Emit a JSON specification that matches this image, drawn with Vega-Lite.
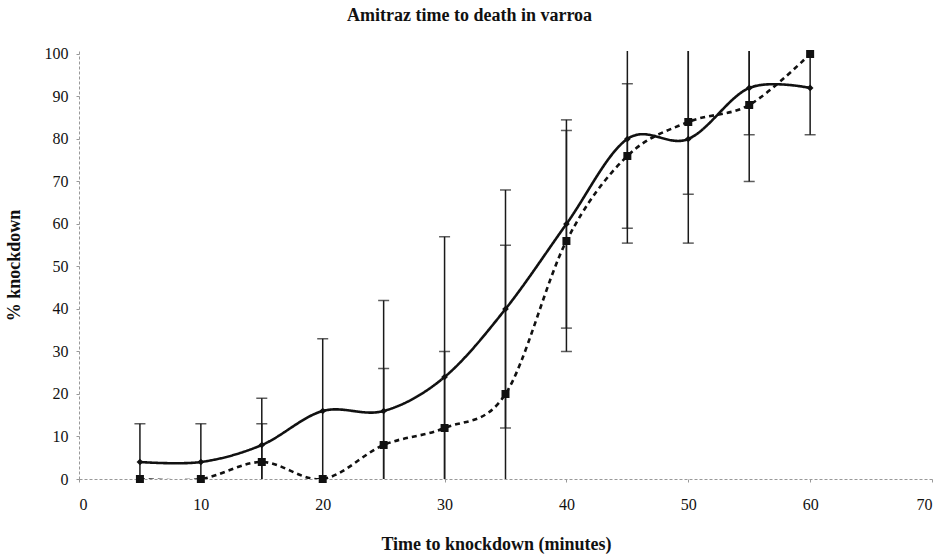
{
  "$schema": "https://vega.github.io/schema/vega-lite/v6.json",
  "width": 853,
  "height": 428,
  "autosize": "none",
  "padding": {"left": 79, "top": 51, "right": 16, "bottom": 75},
  "background": "white",
  "config": {
    "view": {"stroke": null},
    "font": "Liberation Serif"
  },
  "title": {
    "text": "Amitraz time to death in varroa",
    "font": "Liberation Serif",
    "fontSize": 18,
    "fontWeight": "bold",
    "color": "#111",
    "anchor": "middle",
    "dx": -36,
    "offset": 7,
    "baseline": "alphabetic"
  },
  "data": {
    "values": [
      {"t": 5, "series": "A", "value": 4, "lo": -5, "hi": 13},
      {"t": 10, "series": "A", "value": 4, "lo": -5, "hi": 13},
      {"t": 15, "series": "A", "value": 8, "lo": -3, "hi": 19},
      {"t": 20, "series": "A", "value": 16, "lo": -1, "hi": 33},
      {"t": 25, "series": "A", "value": 16, "lo": -10, "hi": 42},
      {"t": 30, "series": "A", "value": 24, "lo": -9, "hi": 57},
      {"t": 35, "series": "A", "value": 40, "lo": 12, "hi": 68},
      {"t": 40, "series": "A", "value": 60, "lo": 35.5, "hi": 84.5},
      {"t": 45, "series": "A", "value": 80, "lo": 55.5, "hi": 104.5},
      {"t": 50, "series": "A", "value": 80, "lo": 55.5, "hi": 104.5},
      {"t": 55, "series": "A", "value": 92, "lo": 81, "hi": 103},
      {"t": 60, "series": "A", "value": 92, "lo": 81, "hi": 103},
      {"t": 5, "series": "B", "value": 0, "lo": null, "hi": null},
      {"t": 10, "series": "B", "value": 0, "lo": null, "hi": null},
      {"t": 15, "series": "B", "value": 4, "lo": -5, "hi": 13},
      {"t": 20, "series": "B", "value": 0, "lo": null, "hi": null},
      {"t": 25, "series": "B", "value": 8, "lo": -10, "hi": 26},
      {"t": 30, "series": "B", "value": 12, "lo": -6, "hi": 30},
      {"t": 35, "series": "B", "value": 20, "lo": -15, "hi": 55},
      {"t": 40, "series": "B", "value": 56, "lo": 30, "hi": 82},
      {"t": 45, "series": "B", "value": 76, "lo": 59, "hi": 93},
      {"t": 50, "series": "B", "value": 84, "lo": 67, "hi": 101},
      {"t": 55, "series": "B", "value": 88, "lo": 70, "hi": 106},
      {"t": 60, "series": "B", "value": 100, "lo": null, "hi": null}
    ]
  },
  "encoding": {
    "x": {
      "field": "t",
      "type": "quantitative",
      "scale": {"domain": [0, 70], "nice": false},
      "axis": {
        "title": "Time to knockdown (minutes)",
        "values": [0, 10, 20, 30, 40, 50, 60, 70],
        "grid": false,
        "domainColor": "#999",
        "domainDash": [3, 2],
        "domainWidth": 1,
        "tickColor": "#999",
        "tickSize": 3,
        "labelFont": "Liberation Serif",
        "labelFontSize": 16,
        "labelColor": "#111",
        "labelPadding": 14,
        "titleFont": "Liberation Serif",
        "titleFontSize": 18,
        "titleFontWeight": "bold",
        "titleColor": "#111",
        "titleX": 417,
        "titleY": 65,
        "titleBaseline": "middle"
      }
    }
  },
  "layer": [
    {
      "mark": {"type": "rule", "clip": true, "color": "#1a1a1a", "strokeWidth": 1.5},
      "encoding": {
        "y": {"field": "lo", "type": "quantitative"},
        "y2": {"field": "hi"}
      }
    },
    {
      "mark": {"type": "tick", "clip": true, "color": "#1a1a1a", "orient": "horizontal", "size": 11, "thickness": 1.5},
      "encoding": {
        "y": {"field": "lo", "type": "quantitative"}
      }
    },
    {
      "mark": {"type": "tick", "clip": true, "color": "#1a1a1a", "orient": "horizontal", "size": 11, "thickness": 1.5},
      "encoding": {
        "y": {"field": "hi", "type": "quantitative"}
      }
    },
    {
      "mark": {"type": "line", "interpolate": "cardinal", "color": "#111", "strokeWidth": 2.6, "clip": true},
      "encoding": {
        "y": {"field": "value", "type": "quantitative"},
        "detail": {"field": "series"},
        "strokeDash": {
          "field": "series",
          "type": "nominal",
          "scale": {"domain": ["A", "B"], "range": [[1, 0], [5, 4]]},
          "legend": null
        }
      }
    },
    {
      "mark": {"type": "point", "filled": true, "color": "#111", "opacity": 1},
      "encoding": {
        "y": {
          "field": "value",
          "type": "quantitative",
          "scale": {"domain": [0, 100.7], "nice": false, "zero": false},
          "axis": {
            "title": "% knockdown",
            "values": [0, 10, 20, 30, 40, 50, 60, 70, 80, 90, 100],
            "grid": false,
            "domainColor": "#999",
            "domainDash": [3, 2],
            "domainWidth": 1,
            "tickColor": "#999",
            "tickSize": 3,
            "labelFont": "Liberation Serif",
            "labelFontSize": 16,
            "labelColor": "#111",
            "labelPadding": 8,
            "titleFont": "Liberation Serif",
            "titleFontSize": 18,
            "titleFontWeight": "bold",
            "titleColor": "#111",
            "titleX": -65,
            "titleY": 214,
            "titleAngle": -90,
            "titleAlign": "center",
            "titleBaseline": "middle"
          }
        },
        "shape": {
          "field": "series",
          "type": "nominal",
          "scale": {"domain": ["A", "B"], "range": ["diamond", "square"]},
          "legend": null
        },
        "size": {
          "field": "series",
          "type": "nominal",
          "scale": {"domain": ["A", "B"], "range": [45, 64]},
          "legend": null
        }
      }
    }
  ],
  "resolve": {"scale": {"y": "shared"}}
}
